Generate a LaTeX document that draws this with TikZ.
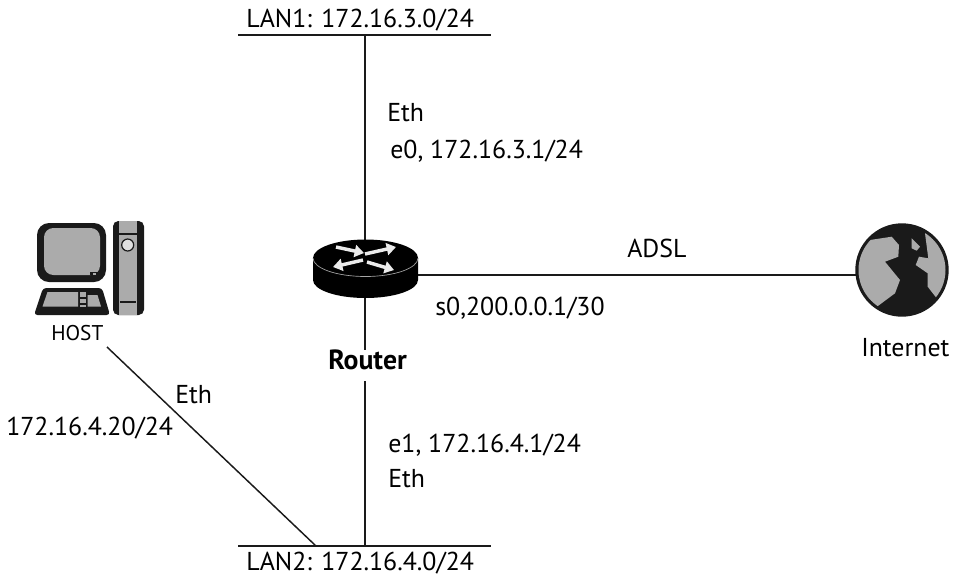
\documentclass[tikz,border=0pt]{standalone}
\usepackage{fontspec}
\setmainfont{PT Sans}
\usetikzlibrary{arrows.meta}
\definecolor{ink}{HTML}{1A1A1A}
\definecolor{midgrey}{HTML}{ABABAB}
\tikzset{
  label text/.style={inner sep=0pt,anchor=base west,font=\fontsize{19.4pt}{21pt}\selectfont,text=black},
  link/.style={draw=ink,line width=1.1pt},
  anchorbox/.style={inner sep=0pt,minimum size=0pt},
  routerarrow/.style={draw=white!92!black,line width=2.6pt,-{Triangle[length=7pt,width=9pt,fill=white!92!black]}},
}
\begin{document}
\begin{tikzpicture}[x=0.75pt,y=-0.75pt]
\useasboundingbox (0,0) rectangle (957,576);
% --- anchors
\coordinate (lan1w) at (238,35);
\coordinate (lan1e) at (491,35);
\coordinate (lan1t) at (365,35);
\coordinate (lan2w) at (238,546);
\coordinate (lan2e) at (491,546);
\coordinate (lan2t) at (365,546);
\coordinate (lan2h) at (316,546);
\node[anchorbox,minimum width=105pt*0.75,minimum height=58pt*0.75] (router) at (365.5,269) {};
\node[anchorbox,minimum size=93.4pt*0.75,circle] (internet) at (902,270) {};
\coordinate (hostfoot) at (107,347);
\coordinate (rstub) at (365,350);
\coordinate (rstub2) at (365,381);
\coordinate (rtop) at (365,241);
\coordinate (rbot) at (365,298);
\coordinate (rright) at (418,275);
\coordinate (iwest) at (856,275);
% --- connectors
\draw[link] (lan1w) -- (lan1e);
\draw[link] (lan2w) -- (lan2e);
\draw[link] (lan1t) -- (rtop);
\draw[link] (rbot) -- (rstub);
\draw[link] (rstub2) -- (lan2t);
\draw[link] (rright) -- (iwest);
\draw[link] (hostfoot) -- (lan2h);
% --- router
\fill[black] (313,258) -- (313,280) arc[x radius=52.5,y radius=18,start angle=180,end angle=0] -- (418,258) -- cycle;
\fill[black] (365.5,258) ellipse[x radius=52.5,y radius=18.5];
\draw[white!65!black,line width=0.5pt] (313,258) arc[x radius=52.5,y radius=18.5,start angle=180,end angle=0];
\draw[routerarrow] (336,247) -- (364,253);
\draw[routerarrow] (365,254) -- (396,247);
\draw[routerarrow] (363,260) -- (333,267);
\draw[routerarrow] (367,262) -- (394,270);
% --- host
\fill[ink,rounded corners=9pt] (37,223) rectangle (106,282);
\fill[midgrey,rounded corners=7pt] (44,228) rectangle (100,275);
\fill[ink] (90,272) rectangle (99,275.2);
\fill[midgrey] (93.2,272.5) rectangle (95.8,275.2);
\fill[ink,rounded corners=2.5pt] (43,288) -- (102,288) -- (110,315) -- (34,315) -- cycle;
\fill[midgrey] (47.5,292) -- (78,292) -- (78,306.5) -- (42.5,306.5) -- cycle;
\fill[midgrey] (79.5,292) -- (86,292) -- (86,297) -- (79.5,297) -- cycle;
\fill[midgrey] (79.5,299) -- (86,299) -- (86,302.5) -- (79.5,302.5) -- cycle;
\fill[midgrey] (79.5,304.5) -- (86,304.5) -- (86,306.5) -- (79.5,306.5) -- cycle;
\fill[midgrey] (87.5,295) -- (97.5,295) -- (101,306.5) -- (87.5,306.5) -- cycle;
\fill[ink,rounded corners=4pt] (113,221) rectangle (144,315);
\fill[midgrey] (119,221) rectangle (137,315);
\fill[ink] (119,233.4) rectangle (137,234.8);
\fill[ink] (120,301.3) rectangle (136,302.7);
\draw[ink,line width=0.9pt,fill=white!88!black] (127.7,245) circle[radius=6];
% --- globe
\fill[ink] (internet.center) circle[radius=46.7];
\begin{scope}
\clip (internet.center) circle[radius=43.5];
\fill[midgrey] (845,240) -- (870,240) -- (891.7,236.7) -- (899,245) -- (898.3,256.7) -- (885,261.7) -- (900,280) -- (895,293.3) -- (878.3,305.7) -- (845,320) -- cycle;
\fill[midgrey] (925,233.3) -- (928.3,258.3) -- (919,256.7) -- (915.7,265) -- (927.7,273.3) -- (927.7,286.7) -- (936.7,298.3) -- (960,310) -- (960,220) -- (925,220) -- cycle;
\fill[midgrey] (911.7,238.3) -- (920,246.7) -- (916.7,250.7) -- (911.7,248.3) -- cycle;
\end{scope}
% --- labels
\node[label text] (t1) at (246,27) {LAN1: 172.16.3.0/24};
\node[label text] (t2) at (387,121) {Eth};
\node[label text] (t3) at (390,158) {e0, 172.16.3.1/24};
\node[label text] (t4) at (627,257) {ADSL};
\node[label text] (t5) at (435,315) {s0,200.0.0.1/30};
\node[label text] (t6) at (861,356) {Internet};
\node[label text,font=\fontsize{20.8pt}{22pt}\selectfont\bfseries] (t7) at (328,369) {Router};
\node[label text,font=\fontsize{16pt}{18pt}\selectfont] (t8) at (51,340) {HOST};
\node[label text] (t9) at (175,403) {Eth};
\node[label text] (t10) at (6,435) {172.16.4.20/24};
\node[label text] (t11) at (388,452) {e1, 172.16.4.1/24};
\node[label text] (t12) at (388,487) {Eth};
\node[label text] (t13) at (246,570) {LAN2: 172.16.4.0/24};
\end{tikzpicture}
\end{document}
